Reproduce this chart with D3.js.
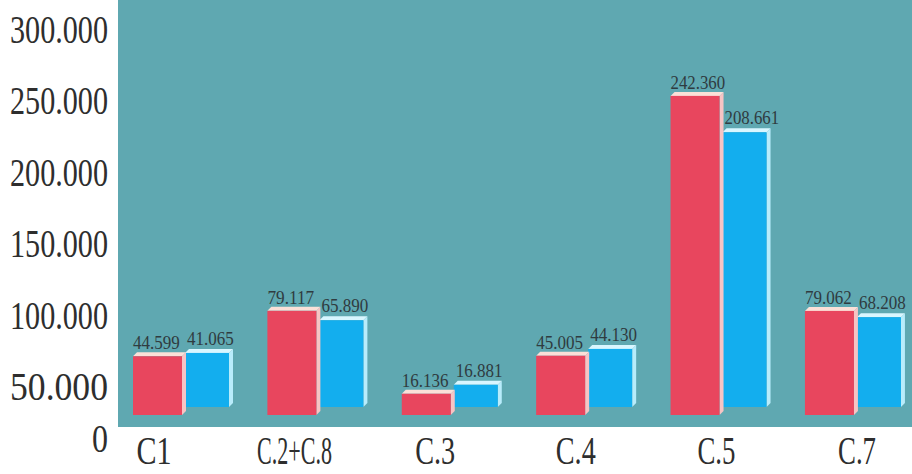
<!DOCTYPE html>
<html>
<head>
<meta charset="utf-8">
<script src="https://cdn.jsdelivr.net/npm/d3@7"></script>
<style>
  body { margin: 0; background: #fff; }
  svg { display: block; }
</style>
</head>
<body>
<svg id="chart" width="912" height="474"></svg>
<script>
const categories = ["C1", "C.2+C.8", "C.3", "C.4", "C.5", "C.7"];
const redValues = [44.599, 79.117, 16.136, 45.005, 242.360, 79.062];
const blueValues = [41.065, 65.890, 16.881, 44.130, 208.661, 68.208];
const yTicks = [0, 50, 100, 150, 200, 250, 300];

// numbers use a dot as thousands separator, like the original
const fmt = v => v === 0 ? "0" : d3.format(".3f")(v);

const svg = d3.select("#chart");

// teal plot panel
svg.append("rect")
  .attr("x", 118).attr("y", 0)
  .attr("width", 794).attr("height", 427)
  .attr("fill", "#5fa8b1");

// the axis labels in the original sit closer together near zero
const yAxisScale = d3.scaleLinear()
  .domain([0, 50, 300])
  .range([437, 385, 28]);

// bar heights
const h = d3.scaleLinear().domain([0, 300]).range([0, 395]);

const x = d3.scaleBand()
  .domain(categories)
  .range([133, 899])
  .paddingInner(0.3)
  .paddingOuter(0);

// category labels are spread a little wider than the bars
const xLabel = d3.scalePoint()
  .domain(categories)
  .range([154, 857]);

const redW = 49, blueW = 44, gap = 3;
const redBase = 415, blueBase = 407;
const depth = 4;

const yAxis = svg.append("g")
  .attr("transform", "translate(108,0)")
  .call(d3.axisLeft(yAxisScale).tickValues(yTicks).tickSize(0).tickPadding(0).tickFormat(fmt));
yAxis.select(".domain").remove();
yAxis.selectAll("text")
  .attr("dy", "0.36em")
  .attr("fill", "#2e2e2e")
  .style("font-family", "'Liberation Serif', serif")
  .style("font-size", "40px")
  .attr("textLength", d => fmt(d).length === 1 ? 16 : 98)
  .attr("lengthAdjust", "spacingAndGlyphs");

const groups = svg.append("g")
  .selectAll("g")
  .data(categories.map((c, i) => ({ c, red: redValues[i], blue: blueValues[i] })))
  .join("g")
  .attr("transform", d => `translate(${x(d.c)},0)`);

function bar3d(g, x0, base, w, v, front, side, top) {
  const y0 = base - h(v);
  g.append("polygon")
    .attr("points", [[x0 + w, y0], [x0 + w + depth, y0 - depth], [x0 + w + depth, base - depth], [x0 + w, base]].join(" "))
    .attr("fill", side);
  g.append("polygon")
    .attr("points", [[x0, y0], [x0 + depth, y0 - depth], [x0 + w + depth, y0 - depth], [x0 + w, y0]].join(" "))
    .attr("fill", top);
  g.append("rect")
    .attr("x", x0).attr("y", y0)
    .attr("width", w).attr("height", h(v))
    .attr("fill", front);
}

groups.each(function(d) {
  const g = d3.select(this);
  // blue bar sits behind the red one
  bar3d(g, redW + gap, blueBase, blueW, d.blue, "#13aeee", "#b8ecfb", "#d8f6ff");
  bar3d(g, 0, redBase, redW, d.red, "#e8465e", "#f7c4c4", "#fbe0d8");

  g.append("text")
    .attr("x", 0)
    .attr("y", redBase - h(d.red) - 7)
    .text(fmt(d.red));
  g.append("text")
    .attr("x", redW + gap + 2)
    .attr("y", blueBase - h(d.blue) - 8)
    .text(fmt(d.blue));
});

groups.selectAll("text")
  .attr("fill", "#2f3b40")
  .style("font-family", "'Liberation Serif', serif")
  .style("font-size", "19px")
  .attr("textLength", function() { return this.textContent.length * 7.8; })
  .attr("lengthAdjust", "spacingAndGlyphs");

// category labels
const catWidth = { "C1": 35, "C.2+C.8": 75, "C.3": 40, "C.4": 40, "C.5": 38, "C.7": 38 };
svg.append("g")
  .selectAll("text")
  .data(categories)
  .join("text")
  .attr("x", d => xLabel(d))
  .attr("y", 464)
  .attr("text-anchor", "middle")
  .attr("fill", "#2e2e2e")
  .style("font-family", "'Liberation Serif', serif")
  .style("font-size", "40px")
  .attr("textLength", d => catWidth[d])
  .attr("lengthAdjust", "spacingAndGlyphs")
  .text(d => d);
</script>
</body>
</html>
